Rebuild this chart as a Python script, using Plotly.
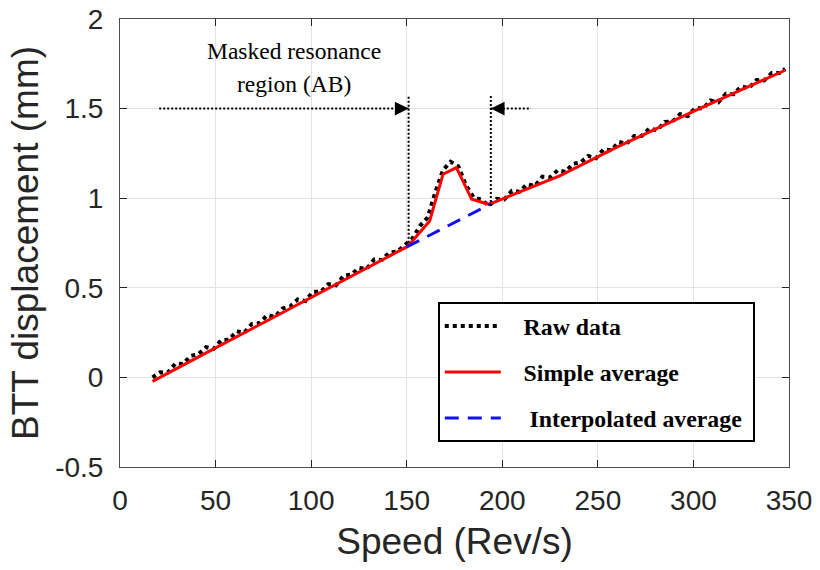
import plotly.graph_objects as go

# Speed sweep (Rev/s) and measured blade tip displacement (mm)
raw_speed = [17, 21, 25, 29, 33, 37, 41, 45, 49, 53, 57, 61, 65, 69, 73, 77, 81, 85,
             89, 93, 97, 101, 105, 109, 113, 117, 121, 125, 129, 133, 137, 141, 145,
             149, 153, 157, 161, 165, 169, 173, 177, 181, 185, 189, 193, 197, 201,
             205, 209, 213, 217, 221, 225, 229, 233, 237, 241, 245, 249, 253, 257,
             261, 265, 269, 273, 277, 281, 285, 289, 293, 297, 301, 305, 309, 313,
             317, 321, 325, 329, 333, 337, 341, 345, 348]
raw_disp = [0.000, 0.028, 0.027, 0.077, 0.075, 0.120, 0.130, 0.168, 0.159, 0.208,
            0.211, 0.257, 0.250, 0.298, 0.303, 0.347, 0.338, 0.384, 0.396, 0.435,
            0.426, 0.478, 0.477, 0.520, 0.514, 0.568, 0.573, 0.611, 0.605, 0.658,
            0.655, 0.698, 0.702, 0.738, 0.775, 0.846, 0.893, 1.035, 1.158, 1.203,
            1.178, 1.072, 1.004, 0.992, 0.958, 0.996, 0.993, 1.041, 1.036, 1.078,
            1.068, 1.120, 1.116, 1.156, 1.147, 1.192, 1.200, 1.236, 1.223, 1.272,
            1.267, 1.314, 1.304, 1.347, 1.348, 1.390, 1.379, 1.426, 1.427, 1.469,
            1.458, 1.504, 1.500, 1.545, 1.535, 1.583, 1.580, 1.624, 1.614, 1.659,
            1.657, 1.698, 1.698, 1.722]

# Simple moving average of the raw signal
avg_speed = [17, 30, 50, 75, 100, 125, 150, 153, 162, 169, 176, 184, 193, 230, 260, 300, 348]
avg_disp = [-0.022, 0.053, 0.165, 0.305, 0.445, 0.588, 0.728, 0.761, 0.873, 1.134,
            1.171, 0.994, 0.966, 1.125, 1.285, 1.485, 1.714]

# Average interpolated across the masked resonance (A -> B)
interp_speed = [150, 194]
interp_disp = [0.728, 0.968]

# Masked region bounds and marker geometry (data units)
mask_start, mask_end = 151, 194
mask_level = 1.5
mask_top = 1.575
mask_left_tail, mask_right_tail = 20.5, 215
mask_start_floor, mask_end_floor = 0.752, 0.957

x_ticks = [0, 50, 100, 150, 200, 250, 300, 350]
x_ticktext = ["0", "50", "100", "150", "200", "250", "300", "350"]
y_ticks = [-0.5, 0, 0.5, 1, 1.5, 2]
y_ticktext = ["-0.5", "0", "0.5", "1", "1.5", "2"]

axis_font = "Liberation Sans, Arial, sans-serif"
serif_font = "Liberation Serif, Times New Roman, serif"
axis_color = "#262626"
pad = "\u00a0\u00a0\u00a0"

fig = go.Figure()

fig.add_trace(go.Scatter(
    x=raw_speed, y=raw_disp, mode="lines", name=pad + "Raw data", legendgroup="a",
    line=dict(color="black", width=4, dash="dot"), hoverinfo="skip"))
fig.add_trace(go.Scatter(
    x=avg_speed, y=avg_disp, mode="lines", name=pad + "Simple average", legendgroup="b",
    line=dict(color="#ff0000", width=3), hoverinfo="skip"))
fig.add_trace(go.Scatter(
    x=interp_speed, y=interp_disp, mode="lines", name=pad + "\u00a0Interpolated average\u00a0",
    legendgroup="c", line=dict(color="#1010f0", width=3, dash="14px,9px"),
    hoverinfo="skip"))

# Dotted guide lines marking the masked resonance region
guide = dict(color="black", width=2, dash="2px,2px")
fig.add_shape(type="line", x0=mask_left_tail, x1=mask_start, y0=mask_level, y1=mask_level, line=guide)
fig.add_shape(type="line", x0=mask_end, x1=mask_right_tail, y0=mask_level, y1=mask_level, line=guide)
fig.add_shape(type="line", x0=mask_start, x1=mask_start, y0=mask_start_floor, y1=mask_top, line=guide)
fig.add_shape(type="line", x0=mask_end, x1=mask_end, y0=mask_end_floor, y1=mask_top, line=guide)

# Arrowheads pointing at A and B
for xa, offset in [(mask_start, -10), (mask_end, 10)]:
    fig.add_annotation(x=xa, y=mask_level, ax=offset, ay=0, text="", showarrow=True,
                       arrowhead=2, arrowsize=2.5, arrowwidth=1.1, arrowcolor="black")

for txt, yv in [("Masked resonance", 1.82), ("region (AB)", 1.637)]:
    fig.add_annotation(x=91, y=yv, text=txt, showarrow=False,
                       font=dict(family=serif_font, size=23.5, color="black"))

fig.update_layout(
    width=820, height=570,
    margin=dict(l=120, r=31, t=19, b=103),
    paper_bgcolor="white", plot_bgcolor="white",
    showlegend=True,
    legend=dict(
        x=0.475, y=0.368, xanchor="left", yanchor="top",
        bgcolor="white", bordercolor="black", borderwidth=2,
        font=dict(family=serif_font, size=23.8, color="black", weight="bold"),
        tracegroupgap=12, itemwidth=56,
    ),
)

fig.update_xaxes(
    range=[0, 350], tickvals=x_ticks, ticktext=x_ticktext,
    showgrid=True, gridcolor="#e3e3e3", gridwidth=1, zeroline=False,
    showline=True, linecolor="#4d4d4d", linewidth=1, mirror="ticks",
    ticks="inside", ticklen=7, tickcolor=axis_color, ticklabelstandoff=8,
    tickfont=dict(family=axis_font, size=28, color=axis_color),
    title=dict(text="Speed (Rev/s)", standoff=13,
               font=dict(family=axis_font, size=37, color=axis_color)),
    automargin=False,
)
fig.update_yaxes(
    range=[-0.5, 2], tickvals=y_ticks, ticktext=y_ticktext,
    showgrid=True, gridcolor="#e3e3e3", gridwidth=1, zeroline=False,
    showline=True, linecolor="#4d4d4d", linewidth=1, mirror="ticks",
    ticks="inside", ticklen=7, tickcolor=axis_color, ticklabelstandoff=10,
    tickfont=dict(family=axis_font, size=28, color=axis_color),
    title=dict(text="BTT displacement (mm)", standoff=5,
               font=dict(family=axis_font, size=37, color=axis_color)),
    automargin=False,
)

fig.write_html("out.html")
